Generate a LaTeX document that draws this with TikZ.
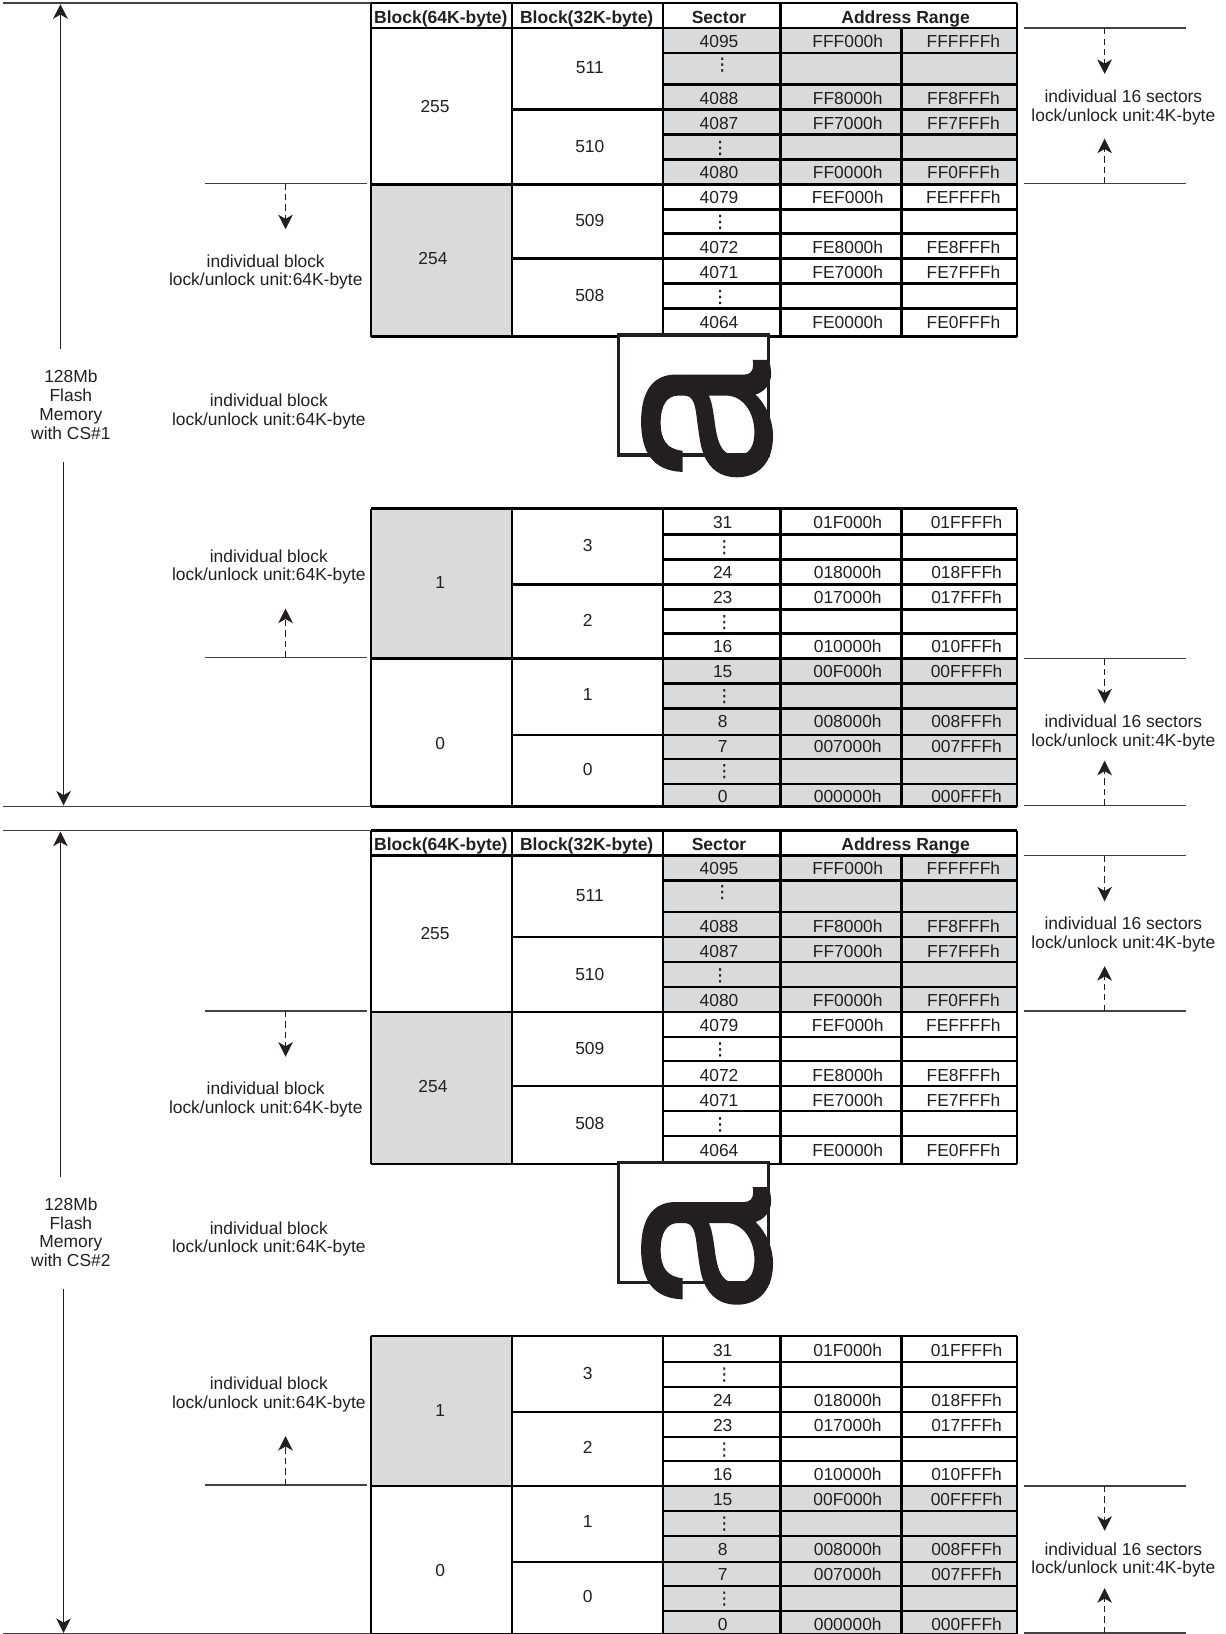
\documentclass[tikz,border=0pt]{standalone}
\usepackage{fontspec}
\setmainfont{Liberation Sans}
\newfontfamily\dotsfont[FakeBold=1]{DejaVu Sans}
\newfontfamily\markfont[FakeBold=0.6]{TeX Gyre Heros}
\usetikzlibrary{arrows.meta}

\definecolor{inkblack}{HTML}{231F20}
\definecolor{sectorgray}{HTML}{D9DADC}

\tikzset{
    cell/.style={inner sep=0pt, text height=6.5pt, text depth=0pt, text=inkblack},
    headcell/.style={cell, font=\fontsize{8.4}{9}\selectfont\bfseries},
    dotcell/.style={inner sep=0pt, text=inkblack, font=\fontsize{8.3}{9}\dotsfont},
    locktext/.style={inner sep=0pt, align=center, text=inkblack},
    tablerule/.style={line width=1.1pt, draw=black},
    thinrule/.style={line width=0.8pt, draw=inkblack!85},
    sizearrow/.style={line width=0.75pt, draw=inkblack, -{Stealth[length=7pt,width=7pt,inset=2pt]}},
    lockarrow/.style={line width=0.6pt, draw=inkblack, densely dashed, -{Stealth[length=7pt,width=7pt,inset=2pt]}}
}

\begin{document}
\begin{tikzpicture}[x=0.5pt, y=-0.5pt, font=\fontsize{8.35}{9}\selectfont]
    \useasboundingbox (0,0) rectangle (1176,1568);

    % The same page of the map is drawn twice, once per chip select
    \foreach \sec/\yoff in {1/0, 2/794} {
    \begin{scope}[shift={(0,\yoff)}]
        % Shaded cells
        \fill[sectorgray] (636,27) rectangle (976,177);
        \fill[sectorgray] (636,632) rectangle (976,774);
        \fill[sectorgray] (356,177) rectangle (491,323);
        \fill[sectorgray] (356,488) rectangle (491,632);

        % Table rules, upper part
        \foreach \y in {3, 27, 323}
            \draw[tablerule] (356,\y) -- (976,\y);
        \foreach \y in {51, 81, 129, 153, 201, 224, 272, 296}
            \draw[tablerule] (636,\y) -- (976,\y);
        \foreach \y in {105, 248}
            \draw[tablerule] (491,\y) -- (976,\y);
        \draw[tablerule] (356,177) -- (976,177);
        \foreach \x in {356, 491, 636, 749, 976}
            \draw[tablerule] (\x,3) -- (\x,323);
        \draw[tablerule] (865,27) -- (865,323);

        % Table rules, lower part
        \foreach \y in {488, 774}
            \draw[tablerule] (356,\y) -- (976,\y);
        \foreach \y in {513, 537, 585, 608, 656, 680, 728, 752}
            \draw[tablerule] (636,\y) -- (976,\y);
        \foreach \y in {561, 705}
            \draw[tablerule] (491,\y) -- (976,\y);
        \draw[tablerule] (356,632) -- (976,632);
        \foreach \x in {356, 491, 636, 749, 865, 976}
            \draw[tablerule] (\x,488) -- (\x,774);

        % Header row
        \node[headcell] (head\sec-a) at (423,16) {Block(64K-byte)};
        \node[headcell] (head\sec-b) at (563,16) {Block(32K-byte)};
        \node[headcell] (head\sec-c) at (690,16) {Sector};
        \node[headcell] (head\sec-d) at (869,16) {Address Range};

        % Blocks
        \foreach \b/\x/\y in {255/417.5/101.5, 254/415.5/247.5, 1/422.5/558.5, 0/422.5/712.5}
            \node[cell] (blk\sec-\b) at (\x,\y) {\b};
        \foreach \b/\x/\y in {511/566/64.5, 510/566/140, 509/566/211, 508/566/283, 3/564/523, 2/564/594.5, 1/564/665.5, 0/564/737.5}
            \node[cell] (half\sec-\b) at (\x,\y) {\b};

        % Sectors and their addresses
        \foreach \s/\y/\lo/\hi in {4095/39/FFF000h/FFFFFFh, 4088/94/FF8000h/FF8FFFh, 4087/118/FF7000h/FF7FFFh, 4080/165/FF0000h/FF0FFFh, 4079/189/FEF000h/FEFFFFh, 4072/237/FE8000h/FE8FFFh, 4071/261/FE7000h/FE7FFFh, 4064/309/FE0000h/FE0FFFh} {
            \node[cell] (sec\sec-\s) at (690,\y) {\s};
            \node[cell] (lo\sec-\s) at (813.5,\y) {\lo};
            \node[cell] (hi\sec-\s) at (924.5,\y) {\hi};
        }
        \foreach \s/\y/\lo/\hi in {31/501/01F000h/01FFFFh, 24/549/018000h/018FFFh, 23/573/017000h/017FFFh, 16/620/010000h/010FFFh, 15/644/00F000h/00FFFFh, 8/692/008000h/008FFFh, 7/716/007000h/007FFFh, 0/764/000000h/000FFFh} {
            \node[cell] (sec\sec-\s) at (693.5,\y) {\s};
            \node[cell] (lo\sec-\s) at (813.5,\y) {\lo};
            \node[cell] (hi\sec-\s) at (927.5,\y) {\hi};
        }
        \foreach \x/\y [count=\i] in {693/62, 691/142, 691/213, 691/285, 695/525, 695/597, 695/668, 695/740}
            \node[dotcell] (dots\sec-\i) at (\x,\y) {⋮};

        % Gap in the address range
        \node[draw=inkblack, line width=1.6pt, fill=white, minimum width=143.5pt*0.5, minimum height=115pt*0.5, inner sep=0pt] (gapbox\sec) at (665.5,379) {};
        \node[inner sep=0pt, rotate=90, text=inkblack, font=\fontsize{113}{113}\markfont] (gapmark\sec) at (678.5,404) {a};

        % Size of the device
        \node[locktext] (chip\sec) at (68,388.5) {128Mb\\Flash\\Memory\\with CS\#\sec};
        \coordinate (chiptop\sec) at (58,4);
        \coordinate (chipup\sec) at (58,335);
        \coordinate (chipdown\sec) at (61,443);
        \coordinate (chipbot\sec) at (61,773);
        \draw[sizearrow] (chipup\sec) -- (chiptop\sec);
        \draw[sizearrow] (chipdown\sec) -- (chipbot\sec);
        \draw[thinrule] (3,3) -- (356,3);
        \draw[thinrule] (3,774) -- (356,774);

        % Lock labels
        \node[locktext] (lockA\sec) at (255,261) {individual block\\lock/unlock unit:64K-byte};
        \node[locktext] (lockB\sec) at (258,395) {individual block\\lock/unlock unit:64K-byte};
        \node[locktext] (lockC\sec) at (258,544) {individual block\\lock/unlock unit:64K-byte};
        \node[locktext] (lockD\sec) at (1078,103) {individual 16 sectors\\lock/unlock unit:4K-byte};
        \node[locktext] (lockE\sec) at (1078,703) {individual 16 sectors\\lock/unlock unit:4K-byte};

        % Bounds of the lock units
        \foreach \nm/\xl/\xr/\xm/\ya/\yb in {a/197/352/274/176/220, b/197/352/274/631/584, c/983/1138/1060/27/71, d/983/1138/1060/176/133, e/983/1138/1060/632/675, f/983/1138/1060/773/730} {
            \coordinate (edge\sec\nm) at (\xm,\ya);
            \coordinate (tip\sec\nm) at (\xm,\yb);
            \draw[thinrule] (\xl,\ya) -- (\xr,\ya);
            \draw[lockarrow] (edge\sec\nm) -- (tip\sec\nm);
        }
    \end{scope}
    }
\end{tikzpicture}
\end{document}
